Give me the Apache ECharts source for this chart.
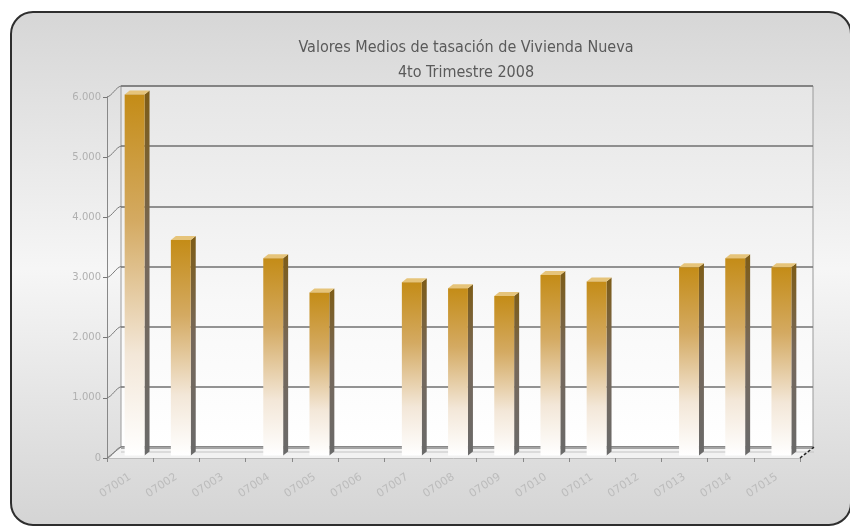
<!DOCTYPE html>
<html>
<head>
<meta charset="utf-8">
<script src="https://cdn.jsdelivr.net/npm/echarts@6/dist/echarts.min.js"></script>
<style>
  html, body { margin: 0; padding: 0; background: #fff; }
  #chart { width: 850px; height: 532px; }
</style>
</head>
<body>
<div id="chart"></div>
<script>
// datos
var categorias = ['07001','07002','07003','07004','07005','07006','07007','07008','07009','07010','07011','07012','07013','07014','07015'];
var valores = [6000, 3580, null, 3280, 2710, null, 2880, 2780, 2650, 3000, 2890, null, 3130, 3280, 3130];
var ticksY = [0, 1000, 2000, 3000, 4000, 5000, 6000];

var chart = echarts.init(document.getElementById('chart'));

// desplazamiento de profundidad (pared del fondo)
var DX = 14, DY = -11;

function fmtMiles(v) {
    return String(v).replace(/\B(?=(\d{3})+(?!\d))/g, '.');
}

// barra 3D: cara frontal, lateral y superior
function barra3D(params, api) {
    var v = api.value(1);
    if (v == null || isNaN(v)) return;
    var top = api.coord([api.value(0), v]);
    var base = api.coord([api.value(0), 0]);
    var band = api.size([1, 0])[0];
    var w = band * 0.43;
    var off = 4.5, dy = -2.5;
    var x0 = top[0] - w / 2 + off;
    var y0 = top[1] + dy;
    var y1 = base[1] + dy;
    var sd = 5, sy = -4;
    return {
        type: 'group',
        children: [
            {
                type: 'polygon',
                shape: { points: [[x0 + w, y0], [x0 + w + sd, y0 + sy], [x0 + w + sd, y1 + sy], [x0 + w, y1]] },
                style: {
                    fill: new echarts.graphic.LinearGradient(0, 0, 0, 1, [
                        { offset: 0, color: '#7d5c17' },
                        { offset: 0.45, color: '#76685a' },
                        { offset: 1, color: '#6a6a6a' }
                    ])
                }
            },
            {
                type: 'polygon',
                shape: { points: [[x0, y0], [x0 + sd, y0 + sy], [x0 + w + sd, y0 + sy], [x0 + w, y0]] },
                style: { fill: '#e6c47a' }
            },
            {
                type: 'rect',
                shape: { x: x0, y: y0, width: w, height: y1 - y0 },
                style: {
                    fill: new echarts.graphic.LinearGradient(0, 0, 0, 1, [
                        { offset: 0, color: '#c48c17' },
                        { offset: 0.35, color: '#d4aa62' },
                        { offset: 0.72, color: '#f3e7d8' },
                        { offset: 1, color: '#ffffff' }
                    ])
                }
            }
        ]
    };
}

// suelo y esquina
function suelo(params, api) {
    var cs = params.coordSys;
    var xl = cs.x, xr = cs.x + cs.width, yb = cs.y + cs.height;
    return {
        type: 'group',
        children: [
            {
                type: 'polygon',
                shape: { points: [[xl, yb], [xl + DX, yb + DY], [xr + DX, yb + DY], [xr, yb]] },
                style: { fill: '#f2f2f2' }
            },
            {
                type: 'line',
                shape: { x1: xl + DX, y1: yb + DY + 1, x2: xr + DX, y2: yb + DY + 1 },
                style: { stroke: '#8a8a8a', lineWidth: 1.5 }
            },
            {
                type: 'line',
                shape: { x1: xl + DX, y1: yb + DY + 5, x2: xr + DX, y2: yb + DY + 5 },
                style: { stroke: '#c4c4c4', lineWidth: 1 }
            },
            {
                type: 'line',
                shape: { x1: xl, y1: yb, x2: xl + DX, y2: yb + DY },
                style: { stroke: '#888', lineWidth: 1 }
            },
            {
                type: 'line',
                shape: { x1: xr, y1: yb, x2: xr + DX, y2: yb + DY },
                style: { stroke: '#222', lineWidth: 1.5, lineDash: [3, 2] }
            }
        ]
    };
}

// conectores de la pared lateral
function lateral(params, api) {
    var p = api.coord([0, api.value(0)]);
    var x = params.coordSys.x;
    return {
        type: 'bezierCurve',
        shape: {
            x1: x, y1: p[1],
            cpx1: x + 5, cpy1: p[1] - 1,
            cpx2: x + 9, cpy2: p[1] + DY + 1,
            x2: x + DX, y2: p[1] + DY
        },
        style: { stroke: '#7a7a7a', lineWidth: 1, fill: null }
    };
}

var option = {
    animation: false,
    graphic: [
        {
            type: 'rect',
            z: -10,
            shape: { x: 11, y: 12, width: 840, height: 513, r: 22 },
            style: {
                fill: new echarts.graphic.LinearGradient(0, 0, 0, 1, [
                    { offset: 0, color: '#d6d6d6' },
                    { offset: 0.5, color: '#f6f6f6' },
                    { offset: 1, color: '#d4d4d4' }
                ]),
                stroke: '#2e2e2e',
                lineWidth: 2
            }
        }
    ],
    title: {
        text: 'Valores Medios de tasación de Vivienda Nueva\n4to Trimestre 2008',
        left: 461,
        top: 30,
        textAlign: 'center',
        textStyle: {
            fontFamily: 'Liberation Sans Narrow, DejaVu Sans Condensed, sans-serif',
            fontWeight: 'normal',
            fontSize: 16,
            lineHeight: 25,
            color: '#5a5a5a'
        }
    },
    grid: [
        { left: 107, top: 97, width: 693, height: 361 },
        {
            left: 121, top: 86, width: 692, height: 361, show: true,
            backgroundColor: new echarts.graphic.LinearGradient(0, 0, 0, 1, [
                { offset: 0, color: '#e6e6e6' },
                { offset: 0.6, color: '#f8f8f8' },
                { offset: 1, color: '#ffffff' }
            ]),
            borderColor: '#9a9a9a', borderWidth: 1
        }
    ],
    xAxis: [
        {
            type: 'category', gridIndex: 0, data: categorias,
            axisLine: { lineStyle: { color: '#bdbdbd' } },
            axisTick: { show: true, length: 4, lineStyle: { color: '#888' } },
            axisLabel: {
                rotate: 33, margin: 18, color: '#bcbcbc', fontSize: 11,
                fontFamily: 'DejaVu Sans, sans-serif', interval: 0
            }
        },
        { type: 'category', gridIndex: 1, data: categorias, show: false }
    ],
    yAxis: [
        {
            type: 'value', gridIndex: 0, min: 0, max: 6000, interval: 1000,
            axisLine: { show: true, lineStyle: { color: '#888' } },
            axisTick: { show: true, length: 4, lineStyle: { color: '#777' } },
            splitLine: { show: false },
            axisLabel: {
                color: '#b0b0b0', fontSize: 10, margin: 6,
                fontFamily: 'DejaVu Sans, sans-serif',
                formatter: fmtMiles
            }
        },
        {
            type: 'value', gridIndex: 1, min: 0, max: 6000, interval: 1000,
            axisLine: { show: false }, axisTick: { show: false }, axisLabel: { show: false },
            splitLine: { show: true, lineStyle: { color: '#707070', width: 1.5 } }
        }
    ],
    series: [
        {
            type: 'custom', xAxisIndex: 0, yAxisIndex: 0, z: 1,
            renderItem: suelo, data: [[0]], silent: true
        },
        {
            type: 'custom', xAxisIndex: 0, yAxisIndex: 0, z: 2,
            renderItem: lateral, data: ticksY.map(function (t) { return [t]; }),
            encode: { y: 0 }, silent: true
        },
        {
            name: 'Valor medio',
            type: 'custom', xAxisIndex: 0, yAxisIndex: 0, z: 3,
            renderItem: barra3D,
            encode: { x: 0, y: 1 },
            data: valores.map(function (v, i) { return [i, v]; })
        }
    ]
};

chart.setOption(option);

window.onresize = function () {
    chart.resize();
};
</script>
</body>
</html>
